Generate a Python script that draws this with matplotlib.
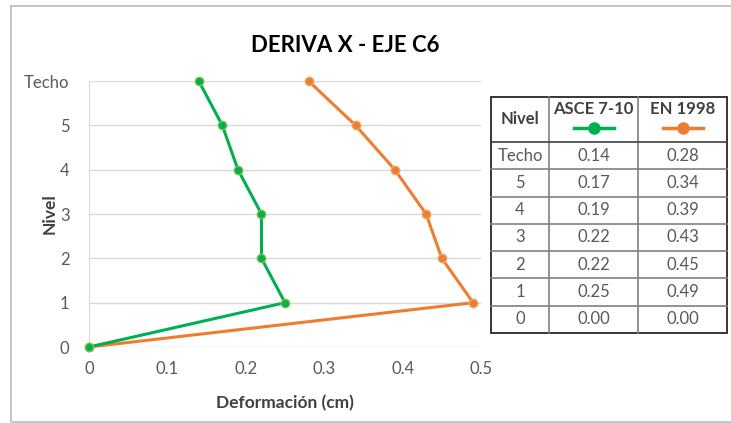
import matplotlib
matplotlib.use("Agg")
import matplotlib.pyplot as plt
from matplotlib.patches import Rectangle
from matplotlib.lines import Line2D

plt.rcParams['font.family'] = ['Lato', 'DejaVu Sans']

# Story levels and lateral deformation (cm)
niveles = ["0", "1", "2", "3", "4", "5", "Techo"]
asce = [0.00, 0.25, 0.22, 0.22, 0.19, 0.17, 0.14]
en1998 = [0.00, 0.49, 0.45, 0.43, 0.39, 0.34, 0.28]
x_ticks = [0, 0.1, 0.2, 0.3, 0.4, 0.5]
x_tick_labels = ["0", "0.1", "0.2", "0.3", "0.4", "0.5"]
series_names = ["ASCE 7-10", "EN 1998"]

GREEN = "#00b050"
ORANGE = "#ed7d31"
TICK = "#595959"
LABEL = "#404040"

W, H = 731, 423
fig = plt.figure(figsize=(W / 100, H / 100), dpi=100)


def fx(px):
    return px / W


def fy(py):
    return 1 - py / H


# outer chart frame (right side runs past the canvas)
fig.add_artist(Rectangle((fx(10.5), fy(421.5)), fx(745) - fx(10.5), fy(6.5) - fy(421.5),
                         transform=fig.transFigure, fill=False, edgecolor="#bfbfbf", lw=1.3,
                         clip_on=False))

fig.text(fx(345), fy(45), "DERIVA X - EJE C6", ha="center", va="center",
         fontsize=16, fontweight="bold", color="#000000")

ax = fig.add_axes([fx(89), fy(347), fx(481) - fx(89), fy(81) - fy(347)])
levels = list(range(len(niveles)))
ax.plot(en1998, levels, color=ORANGE, lw=2.2, marker="o", ms=6, clip_on=False,
        markerfacecolor=ORANGE, markeredgecolor="#f4a062", markeredgewidth=1, zorder=3)
ax.plot(asce, levels, color=GREEN, lw=2.2, marker="o", ms=6, clip_on=False,
        markerfacecolor=GREEN, markeredgecolor="#7cc04a", markeredgewidth=1, zorder=4)

ax.set_xlim(0, 0.5)
ax.set_ylim(0, 6)
ax.set_xticks(x_ticks)
ax.set_xticklabels(x_tick_labels)
ax.set_yticks(levels)
ax.set_yticklabels(niveles)
ax.tick_params(length=0, labelsize=12, colors=TICK)
ax.tick_params(axis="y", pad=14)
ax.tick_params(axis="x", pad=10)
ax.grid(axis="y", color="#d9d9d9", lw=1)
ax.set_axisbelow(True)
for s in ["top", "right", "bottom"]:
    ax.spines[s].set_visible(False)
ax.spines["left"].set_color("#d9d9d9")
ax.set_xlabel("Deformación (cm)", fontsize=12.5, fontweight="bold", color=LABEL)
ax.set_ylabel("Nivel", fontsize=12.5, fontweight="bold", color=LABEL)
ax.xaxis.set_label_coords(0.5, (347 - 395) / 266)
ax.yaxis.set_label_coords((58 - 89) / 392, 0.5)

# data table on the right
tab = fig.add_axes([0, 0, 1, 1])
tab.set_xlim(0, W)
tab.set_ylim(H, 0)
tab.axis("off")

cols = [491, 549, 638, 727]
header_top, header_bot = 97, 142
row_h = (333 - header_bot) / len(niveles)
rows = [header_bot + i * row_h for i in range(len(niveles) + 1)]

# inner grid
for y in rows[1:-1]:
    tab.plot([cols[0], cols[-1]], [y, y], color="#808080", lw=1.2)
for x in cols[1:-1]:
    tab.plot([x, x], [header_top, rows[-1]], color="#808080", lw=1.2)
tab.plot([cols[0], cols[-1]], [header_bot, header_bot], color="#404040", lw=1.2)
tab.add_patch(Rectangle((cols[0], header_top), cols[-1] - cols[0], rows[-1] - header_top,
                        fill=False, edgecolor="#262626", lw=1.3))

cx = [(cols[i] + cols[i + 1]) / 2 for i in range(3)]
tab.text(cx[0], (header_top + header_bot) / 2, "Nivel", ha="center", va="center",
         fontsize=12, fontweight="bold", color=LABEL)
for i, (name, col) in enumerate(zip(series_names, [GREEN, ORANGE])):
    tab.text(cx[i + 1], 109, name, ha="center", va="center",
             fontsize=12, fontweight="bold", color=LABEL)
    tab.add_line(Line2D([cx[i + 1] - 20, cx[i + 1] + 20], [128, 128], color=col, lw=2.5))
    tab.plot(cx[i + 1], 128, marker="o", ms=8, color=col)

for r, lvl in enumerate(reversed(niveles)):
    yc = (rows[r] + rows[r + 1]) / 2
    idx = len(niveles) - 1 - r
    tab.text(cx[0], yc, lvl, ha="center", va="center", fontsize=12, color=TICK)
    tab.text(cx[1], yc, f"{asce[idx]:.2f}", ha="center", va="center", fontsize=12, color=TICK)
    tab.text(cx[2], yc, f"{en1998[idx]:.2f}", ha="center", va="center", fontsize=12, color=TICK)

fig.savefig("out.png", dpi=100)
